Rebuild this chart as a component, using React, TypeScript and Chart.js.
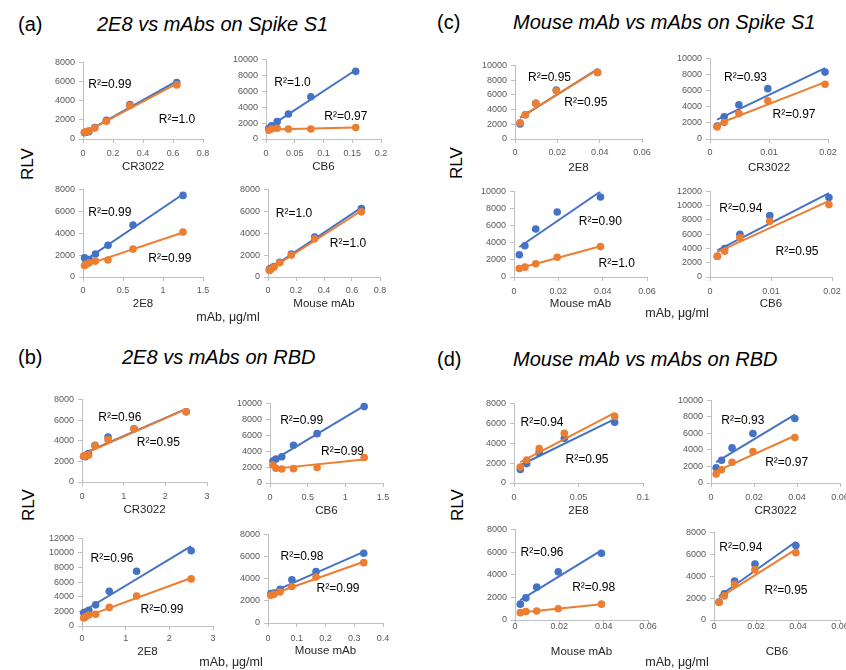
import React, { useEffect, useRef } from "react";
import { Chart, registerables } from "chart.js";
Chart.register(...registerables);

// ---------- DATA ----------
// (a) 2E8 vs mAbs on Spike S1
const aCR3022X = [0.625, 0.3125, 0.156, 0.078, 0.039, 0.0195, 0.0098];
const aCR3022Blue = [5900, 3600, 1950, 1200, 750, 700, 650];
const aCR3022Orange = [5650, 3500, 1850, 1150, 850, 750, 700];
const aCB6X = [0.156, 0.078, 0.039, 0.0195, 0.0098, 0.0049];
const aCB6Blue = [8500, 5300, 3150, 2200, 1650, 1350];
const aCB6Orange = [1450, 1250, 1250, 1350, 1250, 1100];
const a2E8X = [1.25, 0.625, 0.3125, 0.156, 0.078, 0.039, 0.0195];
const a2E8Blue = [7450, 4750, 2900, 2100, 1600, 1450, 1750];
const a2E8Orange = [4100, 2550, 1550, 1450, 1300, 1150, 1050];
const aMouseX = [0.667, 0.333, 0.167, 0.083, 0.042, 0.021, 0.01];
const aMouseBlue = [6250, 3650, 2100, 1350, 950, 800, 700];
const aMouseOrange = [5950, 3500, 2000, 1300, 900, 700, 600];

// (c) Mouse mAb vs mAbs on Spike S1
const c2E8X = [0.039, 0.0195, 0.0098, 0.0049, 0.0024];
const c2E8Blue = [9050, 6650, 4850, 3300, 2050];
const c2E8Orange = [9050, 6550, 4850, 3300, 2200];
const cCR3022X = [0.0195, 0.0098, 0.0049, 0.0024, 0.0012];
const cCR3022Blue = [8300, 6250, 4250, 2750, 1600];
const cCR3022Orange = [6800, 4750, 3150, 2050, 1500];
const cMouseX = [0.039, 0.0195, 0.0098, 0.0049, 0.0024];
const cMouseBlue = [9350, 7600, 5600, 3650, 2600];
const cMouseOrange = [3550, 2300, 1550, 1150, 1000];
const cCB6X = [0.0195, 0.0098, 0.0049, 0.0024, 0.0012];
const cCB6Blue = [11150, 8600, 6000, 4000, 2900];
const cCB6Orange = [10150, 7800, 5500, 3600, 2900];

// (b) 2E8 vs mAbs on RBD
const bCR3022X = [2.5, 1.25, 0.625, 0.3125, 0.156, 0.078, 0.039];
const bCR3022Blue = [6800, 5150, 4350, 3550, 2750, 2450, 2500];
const bCR3022Orange = [6800, 5150, 4100, 3500, 2600, 2550, 2500];
const bCB6X = [1.25, 0.625, 0.3125, 0.156, 0.078, 0.039];
const bCB6Blue = [9600, 6200, 4750, 3300, 3000, 2750];
const bCB6Orange = [3200, 1950, 1800, 1750, 1850, 2250];
const b2E8X = [2.5, 1.25, 0.625, 0.3125, 0.156, 0.078, 0.039];
const b2E8Blue = [10300, 7500, 4750, 2900, 2150, 1900, 1800];
const b2E8Orange = [6450, 4100, 2550, 1600, 1500, 1250, 1100];
const bMouseX = [0.333, 0.167, 0.083, 0.042, 0.021, 0.01];
const bMouseBlue = [6300, 4650, 3900, 3050, 2700, 2650];
const bMouseOrange = [5450, 4150, 3300, 2800, 2600, 2500];

// (d) Mouse mAb vs mAbs on RBD
const d2E8X = [0.078, 0.039, 0.0195, 0.0098, 0.0049];
const d2E8Blue = [6100, 4500, 3050, 1950, 1350];
const d2E8Orange = [6700, 5000, 3450, 2300, 1600];
const dCR3022X = [0.039, 0.0195, 0.0098, 0.0049, 0.0024];
const dCR3022Blue = [7800, 6000, 4250, 2750, 1850];
const dCR3022Orange = [5500, 3800, 2500, 1600, 1100];
const dMouseX = [0.039, 0.0195, 0.0098, 0.0049, 0.0024];
const dMouseBlue = [5900, 4250, 2900, 1950, 1400];
const dMouseOrange = [1400, 1000, 800, 750, 650];
const dCB6X = [0.039, 0.0195, 0.0098, 0.0049, 0.0024];
const dCB6Blue = [6800, 5100, 3550, 2400, 1650];
const dCB6Orange = [6150, 4600, 3250, 2200, 1600];

// ---------- STYLE / LAYOUT ----------
const BLUE = "#4472C4";
const ORANGE = "#ED7D31";
const AXIS = "#BFBFBF";
const FONT = "'Liberation Sans', Arial, Helvetica, sans-serif";
const Y_W = 40;
const PAD_T = 8;
const PAD_R = 14;
const TICK_LEN = 4;
const TICK_FONT = 9;
const TITLE_FONT = 11.5;

type Sub = {
  title: string; x: number[]; blue: number[]; orange: number[];
  xMax: number; xStep: number; yMax: number;
  L: number; T: number; R: number; B: number; tickGap: number; titleGap: number;
};

const subs: Sub[] = [
  { title: "CR3022", x: aCR3022X, blue: aCR3022Blue, orange: aCR3022Orange, xMax: 0.8, xStep: 0.2, yMax: 8000, L: 83, T: 61, R: 203, B: 139, tickGap: 14.7, titleGap: 28 },
  { title: "CB6", x: aCB6X, blue: aCB6Blue, orange: aCB6Orange, xMax: 0.2, xStep: 0.05, yMax: 10000, L: 266, T: 58, R: 381, B: 139, tickGap: 14.7, titleGap: 28 },
  { title: "2E8", x: a2E8X, blue: a2E8Blue, orange: a2E8Orange, xMax: 1.5, xStep: 0.5, yMax: 8000, L: 83, T: 188, R: 203, B: 277, tickGap: 14, titleGap: 27.3 },
  { title: "Mouse mAb", x: aMouseX, blue: aMouseBlue, orange: aMouseOrange, xMax: 0.8, xStep: 0.2, yMax: 8000, L: 268, T: 188, R: 380, B: 277, tickGap: 14, titleGap: 27.3 },
  { title: "2E8", x: c2E8X, blue: c2E8Blue, orange: c2E8Orange, xMax: 0.06, xStep: 0.02, yMax: 10000, L: 515, T: 64, R: 642, B: 139, tickGap: 14, titleGap: 29 },
  { title: "CR3022", x: cCR3022X, blue: cCR3022Blue, orange: cCR3022Orange, xMax: 0.02, xStep: 0.01, yMax: 10000, L: 710, T: 57, R: 828, B: 139, tickGap: 14, titleGap: 29 },
  { title: "Mouse mAb", x: cMouseX, blue: cMouseBlue, orange: cMouseOrange, xMax: 0.06, xStep: 0.02, yMax: 10000, L: 514, T: 190, R: 647, B: 277, tickGap: 14.3, titleGap: 26.7 },
  { title: "CB6", x: cCB6X, blue: cCB6Blue, orange: cCB6Orange, xMax: 0.02, xStep: 0.01, yMax: 12000, L: 710, T: 190, R: 832, B: 277, tickGap: 14.3, titleGap: 26.7 },
  { title: "CR3022", x: bCR3022X, blue: bCR3022Blue, orange: bCR3022Orange, xMax: 3, xStep: 1, yMax: 8000, L: 82, T: 398, R: 207, B: 482, tickGap: 15, titleGap: 28.3 },
  { title: "CB6", x: bCB6X, blue: bCB6Blue, orange: bCB6Orange, xMax: 1.5, xStep: 0.5, yMax: 10000, L: 270, T: 402, R: 383, B: 483, tickGap: 15, titleGap: 28 },
  { title: "2E8", x: b2E8X, blue: b2E8Blue, orange: b2E8Orange, xMax: 3, xStep: 1, yMax: 12000, L: 82, T: 537, R: 213, B: 626, tickGap: 13, titleGap: 25.7 },
  { title: "Mouse mAb", x: bMouseX, blue: bMouseBlue, orange: bMouseOrange, xMax: 0.4, xStep: 0.1, yMax: 8000, L: 268, T: 533, R: 383, B: 623, tickGap: 15.7, titleGap: 28.4 },
  { title: "2E8", x: d2E8X, blue: d2E8Blue, orange: d2E8Orange, xMax: 0.1, xStep: 0.05, yMax: 8000, L: 514, T: 402, R: 643, B: 483, tickGap: 14.6, titleGap: 28 },
  { title: "CR3022", x: dCR3022X, blue: dCR3022Blue, orange: dCR3022Orange, xMax: 0.06, xStep: 0.02, yMax: 10000, L: 711, T: 399, R: 840, B: 483, tickGap: 14.6, titleGap: 28 },
  { title: "Mouse mAb", x: dMouseX, blue: dMouseBlue, orange: dMouseOrange, xMax: 0.06, xStep: 0.02, yMax: 8000, L: 515, T: 528, R: 648, B: 620, tickGap: 7, titleGap: 31.7 },
  { title: "CB6", x: dCB6X, blue: dCB6Blue, orange: dCB6Orange, xMax: 0.06, xStep: 0.02, yMax: 8000, L: 714, T: 531, R: 840, B: 620, tickGap: 7, titleGap: 31.7 },
];

const r2Labels: [number, number, string][] = [
  [109.8, 84.3, "R²=0.99"], [177, 119, "R²=1.0"], [292.5, 82.3, "R²=1.0"], [345.8, 116, "R²=0.97"],
  [109.8, 211.7, "R²=0.99"], [169.8, 257.7, "R²=0.99"], [294, 212.7, "R²=1.0"], [348, 243.3, "R²=1.0"],
  [549.5, 76.7, "R²=0.95"], [585.8, 101.7, "R²=0.95"], [745.5, 77.3, "R²=0.93"], [794, 114, "R²=0.97"],
  [600.3, 221, "R²=0.90"], [616.7, 263.3, "R²=1.0"], [740.8, 208.3, "R²=0.94"], [797, 251, "R²=0.95"],
  [119.8, 416.7, "R²=0.96"], [158.3, 441.7, "R²=0.95"], [301.7, 420, "R²=0.99"], [342.5, 451, "R²=0.99"],
  [112, 558.3, "R²=0.96"], [162, 609.3, "R²=0.99"], [302, 555.7, "R²=0.98"], [338, 588.3, "R²=0.99"],
  [542, 421.7, "R²=0.94"], [587, 459, "R²=0.95"], [742.8, 420, "R²=0.93"], [786.7, 461.7, "R²=0.97"],
  [542, 551.7, "R²=0.96"], [593.7, 586.7, "R²=0.98"], [740.8, 546.7, "R²=0.94"], [786, 590, "R²=0.95"],
];

const panels: { tag: string; title: string; tagX: number; titleX: number; y: number; rlvX: number; rlvY: number; unitX: number; unitY: number }[] = [
  { tag: "(a)", title: "2E8 vs mAbs on Spike S1", tagX: 18, titleX: 97, y: 24, rlvX: 27, rlvY: 164, unitX: 228, unitY: 316.5 },
  { tag: "(c)", title: "Mouse mAb vs mAbs on Spike S1", tagX: 437, titleX: 513, y: 22, rlvX: 456, rlvY: 163, unitX: 677, unitY: 312.5 },
  { tag: "(b)", title: "2E8 vs mAbs on RBD", tagX: 18, titleX: 122, y: 357, rlvX: 28, rlvY: 505, unitX: 231, unitY: 661.5 },
  { tag: "(d)", title: "Mouse mAb vs mAbs on RBD", tagX: 437, titleX: 513, y: 359, rlvX: 457, rlvY: 505, unitX: 677, unitY: 661.5 },
];

function fitLine(xs: number[], ys: number[]) {
  const n = xs.length;
  const mx = xs.reduce((a, b) => a + b, 0) / n;
  const my = ys.reduce((a, b) => a + b, 0) / n;
  let sxy = 0, sxx = 0;
  for (let i = 0; i < n; i++) { sxy += (xs[i] - mx) * (ys[i] - my); sxx += (xs[i] - mx) ** 2; }
  const k = sxy / sxx;
  const b = my - k * mx;
  const x0 = Math.min(...xs), x1 = Math.max(...xs);
  return [{ x: x0, y: k * x0 + b }, { x: x1, y: k * x1 + b }];
}

const fmt = (v: any) => String(parseFloat(Number(v).toFixed(6)));

function SubChart({ s }: { s: Sub }) {
  const ref = useRef<HTMLCanvasElement | null>(null);
  const xAxisH = Math.round(s.titleGap + (TITLE_FONT * 1.2) / 2);
  const width = Y_W + (s.R - s.L) + PAD_R;
  const height = PAD_T + (s.B - s.T) + xAxisH;
  useEffect(() => {
    if (!ref.current) return;
    const pts = (ys: number[]) => s.x.map((x, i) => ({ x, y: ys[i] }));
    const chart = new Chart(ref.current, {
      type: "scatter",
      data: {
        datasets: [
          { data: pts(s.orange), backgroundColor: ORANGE, borderColor: ORANGE, borderWidth: 0, pointRadius: 3.8, clip: false } as any,
          { data: fitLine(s.x, s.orange), showLine: true, borderColor: ORANGE, borderWidth: 2, pointRadius: 0 } as any,
          { data: pts(s.blue), backgroundColor: BLUE, borderColor: BLUE, borderWidth: 0, pointRadius: 3.8, clip: false } as any,
          { data: fitLine(s.x, s.blue), showLine: true, borderColor: BLUE, borderWidth: 2, pointRadius: 0 } as any,
        ],
      },
      options: {
        animation: false,
        responsive: false,
        maintainAspectRatio: false,
        events: [],
        layout: { padding: { top: PAD_T, right: PAD_R, left: 0, bottom: 0 } },
        plugins: { legend: { display: false }, tooltip: { enabled: false } },
        scales: {
          x: {
            type: "linear", min: 0, max: s.xMax,
            ticks: { stepSize: s.xStep, font: { family: FONT, size: TICK_FONT }, color: "#595959", padding: s.tickGap - TICK_LEN - (TICK_FONT * 1.2) / 2, callback: fmt, maxRotation: 0, autoSkip: false },
            grid: { display: true, drawOnChartArea: false, drawTicks: true, tickLength: TICK_LEN, tickColor: AXIS },
            border: { display: true, color: AXIS, width: 1 },
            title: { display: true, text: s.title, font: { family: FONT, size: TITLE_FONT }, color: "#262626", padding: 0 },
            afterFit: (sc: any) => { sc.height = xAxisH; },
          },
          y: {
            type: "linear", min: 0, max: s.yMax,
            ticks: { stepSize: 2000, font: { family: FONT, size: TICK_FONT }, color: "#595959", padding: 4, callback: fmt },
            grid: { display: true, drawOnChartArea: false, drawTicks: true, tickLength: TICK_LEN, tickColor: AXIS },
            border: { display: true, color: AXIS, width: 1 },
            afterFit: (sc: any) => { sc.width = Y_W; },
          },
        },
      } as any,
    });
    return () => chart.destroy();
  }, [s]);
  return (
    <canvas
      ref={ref}
      width={width}
      height={height}
      style={{ position: "absolute", left: s.L - Y_W, top: s.T - PAD_T, width, height }}
    />
  );
}

export default function App() {
  return (
    <div style={{ position: "absolute", left: 0, top: 0, width: 846, height: 670, overflow: "hidden", background: "#fff", fontFamily: FONT, color: "#000" }}>
      {subs.map((s, i) => <SubChart key={i} s={s} />)}
      {panels.map((p, i) => (
        <React.Fragment key={"p" + i}>
          <div style={{ position: "absolute", left: p.tagX, top: p.y, transform: "translateY(-50%)", fontSize: 20, lineHeight: 1, whiteSpace: "nowrap" }}>{p.tag}</div>
          <div style={{ position: "absolute", left: p.titleX, top: p.y, transform: "translateY(-50%)", fontSize: 20, lineHeight: 1, fontStyle: "italic", whiteSpace: "nowrap" }}>{p.title}</div>
          <div style={{ position: "absolute", left: p.rlvX, top: p.rlvY, transform: "translate(-50%,-50%) rotate(-90deg)", fontSize: 17, lineHeight: 1, whiteSpace: "nowrap" }}>RLV</div>
          <div style={{ position: "absolute", left: p.unitX, top: p.unitY, transform: "translate(-50%,-50%)", fontSize: 12.5, lineHeight: 1, color: "#262626", whiteSpace: "nowrap" }}>mAb, μg/ml</div>
        </React.Fragment>
      ))}
      {r2Labels.map(([x, y, t], i) => (
        <div key={"r" + i} style={{ position: "absolute", left: x, top: y, transform: "translate(-50%,-50%)", fontSize: 12, lineHeight: 1, whiteSpace: "nowrap" }}>{t}</div>
      ))}
    </div>
  );
}
